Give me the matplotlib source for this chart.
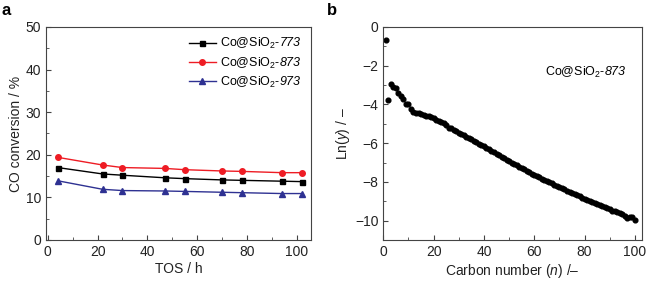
import matplotlib
matplotlib.use("Agg")
import matplotlib.pyplot as plt
from matplotlib.ticker import MultipleLocator, FuncFormatter

plt.rcParams['font.family'] = ['Liberation Sans', 'DejaVu Sans']
plt.rcParams['mathtext.fontset'] = 'custom'
plt.rcParams['mathtext.rm'] = 'Liberation Sans'
plt.rcParams['mathtext.it'] = 'Liberation Sans:italic'
plt.rcParams['mathtext.sf'] = 'Liberation Sans:italic'
plt.rcParams['mathtext.bf'] = 'Liberation Sans:bold'

# ---- Panel a data ----
tos = [4, 22, 30, 47, 55, 70, 78, 94, 102]
conv_773 = [17.0, 15.5, 15.2, 14.6, 14.4, 14.1, 14.0, 13.8, 13.7]
conv_873 = [19.4, 17.6, 17.0, 16.8, 16.5, 16.2, 16.1, 15.8, 15.8]
conv_973 = [13.9, 11.9, 11.6, 11.5, 11.4, 11.2, 11.1, 10.9, 10.9]
labels_a = ['Co@SiO$_2$-$\\mathsf{773}$', 'Co@SiO$_2$-$\\mathsf{873}$', 'Co@SiO$_2$-$\\mathsf{973}$']

# ---- Panel b data ----
carbon_n = list(range(1, 101))
ln_y = [-0.65, -3.78, -2.92, -3.08, -3.15, -3.40, -3.57, -3.74, -3.98, -3.99,
        -4.22, -4.38, -4.42, -4.44, -4.48, -4.55, -4.59, -4.62, -4.67, -4.72,
        -4.78, -4.84, -4.91, -4.98, -5.08, -5.20, -5.22, -5.30, -5.38, -5.46,
        -5.53, -5.60, -5.67, -5.74, -5.81, -5.88, -5.95, -6.02, -6.09, -6.16,
        -6.24, -6.31, -6.39, -6.46, -6.54, -6.62, -6.70, -6.78, -6.86, -6.94,
        -7.01, -7.08, -7.15, -7.22, -7.29, -7.36, -7.43, -7.50, -7.57, -7.64,
        -7.70, -7.77, -7.83, -7.90, -7.96, -8.02, -8.08, -8.14, -8.21, -8.27,
        -8.33, -8.39, -8.45, -8.51, -8.57, -8.63, -8.69, -8.75, -8.81, -8.87,
        -8.93, -8.98, -9.03, -9.08, -9.13, -9.18, -9.23, -9.30, -9.33, -9.40,
        -9.52, -9.52, -9.55, -9.62, -9.68, -9.76, -9.88, -9.80, -9.83, -9.97]
label_b = 'Co@SiO$_2$-$\\mathsf{873}$'

fig = plt.figure(figsize=(6.48, 2.84), dpi=100)
axa = fig.add_axes([0.071, 0.155, 0.409, 0.75])
axb = fig.add_axes([0.5915, 0.155, 0.3992, 0.75])

spine_col = '#444444'
for ax in (axa, axb):
    for s in ax.spines.values():
        s.set_color(spine_col)
        s.set_linewidth(0.8)
    ax.tick_params(which='both', direction='in', colors=spine_col, labelcolor='#222222',
                   labelsize=10, top=False, right=False)
    ax.tick_params(which='major', length=3.5, width=0.8)
    ax.tick_params(which='minor', length=2, width=0.6)

axa.plot(tos, conv_773, '-s', color='black', ms=3.6, lw=1.0, label=labels_a[0])
axa.plot(tos, conv_873, '-o', color='#ee1c24', ms=4.0, lw=1.0, label=labels_a[1])
axa.plot(tos, conv_973, '-^', color='#2e3192', ms=4.3, lw=1.0, label=labels_a[2])
axa.set_xlim(-0.7, 105.7)
axa.set_ylim(0, 50)
axa.xaxis.set_major_locator(MultipleLocator(20))
axa.xaxis.set_minor_locator(MultipleLocator(10))
axa.yaxis.set_major_locator(MultipleLocator(10))
axa.yaxis.set_minor_locator(MultipleLocator(5))
axa.set_xlabel('TOS / h', fontsize=10, labelpad=2, color='#222222')
axa.set_ylabel('CO conversion / %', fontsize=10, labelpad=2, color='#222222')
axa.legend(loc='upper right', fontsize=9, frameon=False, handlelength=2.2,
           handletextpad=0.3, labelspacing=0.32, borderaxespad=0.35)

axb.plot(carbon_n, ln_y, 'o', color='black', ms=3.4, ls='none')
axb.set_xlim(0, 102.8)
axb.set_ylim(-11, 0)
axb.xaxis.set_major_locator(MultipleLocator(20))
axb.xaxis.set_minor_locator(MultipleLocator(10))
axb.yaxis.set_major_locator(MultipleLocator(2))
axb.yaxis.set_minor_locator(MultipleLocator(1))
axb.yaxis.set_major_formatter(FuncFormatter(
    lambda v, p: ('\u2212%d' % abs(round(v))) if v < 0 else '%d' % round(v)))
axb.set_xlabel('Carbon number ($\\mathit{n}$) /\u2013', fontsize=10, labelpad=2, color='#222222')
axb.set_ylabel('Ln($\\mathit{y}$) / \u2013', fontsize=10, labelpad=2, color='#222222')
axb.text(64.2, -2.35, label_b, fontsize=9, va='center', ha='left')

fig.text(0.003, 0.99, 'a', fontsize=12, fontweight='bold', va='top', ha='left')
fig.text(0.505, 0.99, 'b', fontsize=12, fontweight='bold', va='top', ha='left')

fig.savefig('out.png', dpi=100)
